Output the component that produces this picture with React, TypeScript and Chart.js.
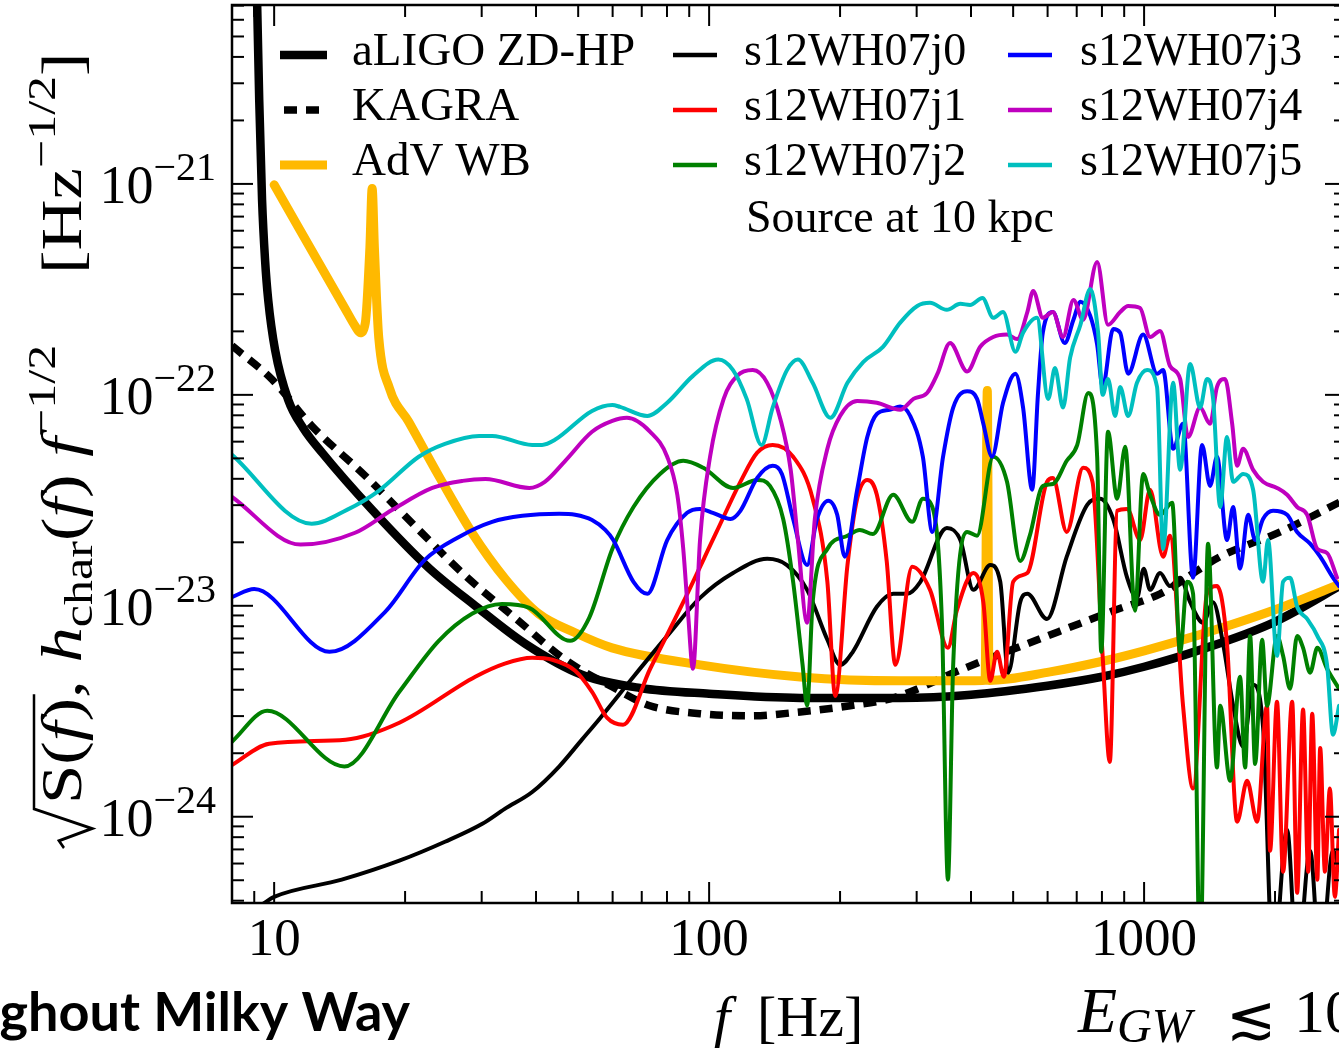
import { useEffect, useRef } from "react";
import { Chart, registerables } from "chart.js";
Chart.register(...registerables);

// ---------- axis ranges & ticks ----------
const X_MIN = 8;
const X_MAX = 2912;
const Y_MIN = 3.9e-25;
const Y_MAX = 7.05e-21;
const X_MAJOR = [10, 100, 1000];
const X_TICK_LABELS = ["10", "100", "1000"];
const Y_MAJOR = [1e-24, 1e-23, 1e-22, 1e-21];
const Y_TICK_EXP = ["\u221224", "\u221223", "\u221222", "\u221221"];

// ---------- detector noise curves ----------
const F_ALIGO = [9.09, 9.14, 9.24, 9.38, 9.53, 9.69, 10.05, 10.77, 11.66, 12.9, 16.8, 22.7, 29.0, 37.8, 51.0, 69.3, 100, 162, 275, 400, 600, 800, 1000, 1345, 2000, 2912];
const S_ALIGO = [1.3e-20, 7.05e-21, 2.5e-21, 8.39e-22, 4.36e-22, 2.82e-22, 1.63e-22, 9.48e-23, 6.97e-23, 5.31e-23, 2.85e-23, 1.51e-23, 1.0e-23, 6.6e-24, 4.71e-24, 4.08e-24, 3.83e-24, 3.66e-24, 3.66e-24, 3.79e-24, 4.18e-24, 4.61e-24, 5.14e-24, 6.18e-24, 8.4e-24, 1.29e-23];

const F_KAGRA = [8.0, 9.9, 12.2, 16.2, 21.5, 27.5, 35.8, 46.7, 59.8, 73.1, 95.3, 124, 162, 211, 265, 384, 600, 849, 1089, 1496, 2056, 2912];
const S_KAGRA = [1.71e-22, 1.18e-22, 7.13e-23, 4.13e-23, 2.29e-23, 1.39e-23, 8.77e-24, 5.55e-24, 4.13e-24, 3.36e-24, 3.08e-24, 3.01e-24, 3.14e-24, 3.36e-24, 3.66e-24, 5.03e-24, 7.2e-24, 9.47e-24, 1.14e-23, 1.71e-23, 2.24e-23, 3.21e-23];

const F_ADV = [10.0, 14.56, 15.35, 15.76, 16.2, 16.6, 16.8, 17.0, 17.2, 17.4, 18.4, 20.4, 23.9, 28.5, 34.0, 40.6, 49.2, 59.8, 95.3, 162, 275, 398, 431, 436, 440, 608, 793, 1000, 1345, 2000, 2912];
const S_ADV = [9.9e-22, 2.56e-22, 2.12e-22, 1.97e-22, 2.19e-22, 5.0e-22, 9.5e-22, 5.0e-22, 2.82e-22, 1.86e-22, 1.08e-22, 7.44e-23, 4.13e-23, 2.22e-23, 1.34e-23, 9.16e-24, 7.45e-24, 6.32e-24, 5.25e-24, 4.6e-24, 4.41e-24, 4.41e-24, 4.43e-24, 1.05e-22, 4.43e-24, 4.86e-24, 5.43e-24, 6.12e-24, 7.3e-24, 9.57e-24, 1.30e-23];

// ---------- signals (source at 10 kpc) ----------
const F_J0 = [9.4, 10.0, 14.3, 19.4, 24.7, 30.1, 33.9, 39.2, 45.2, 51.0, 56.2, 67.0, 80.1, 95.3, 113.5, 136, 151, 168, 187, 200, 214, 243, 265, 285, 306, 352, 378, 405, 443, 467, 487, 519, 539, 598, 664, 740, 792, 849, 914, 963, 998, 1032, 1088, 1147, 1210, 1276, 1367, 1441, 1519, 1602, 1689, 1781, 1877, 1979, 2132, 2248, 2408, 2540, 2718, 2807];
const S_J0 = [3.85e-25, 4.17e-25, 5.03e-25, 6.19e-25, 7.61e-25, 9.26e-25, 1.09e-24, 1.31e-24, 1.73e-24, 2.32e-24, 2.94e-24, 4.61e-24, 7.2e-24, 1.09e-23, 1.43e-23, 1.67e-23, 1.56e-23, 1.19e-23, 6.9e-24, 5.25e-24, 6.05e-24, 9.9e-24, 1.14e-23, 1.14e-23, 1.30e-23, 2.34e-23, 2.05e-23, 1.19e-23, 1.56e-23, 1.30e-23, 4.82e-24, 1.04e-23, 1.14e-23, 8.66e-24, 1.71e-23, 3.01e-23, 3.22e-23, 2.58e-23, 1.36e-23, 1.09e-23, 1.50e-23, 1.19e-23, 1.43e-23, 1.24e-23, 1.36e-23, 1.04e-23, 8.31e-24, 1.04e-23, 6.61e-24, 3.36e-24, 2.15e-24, 4.22e-24, 2.67e-24, 2e-25, 8.67e-25, 2e-25, 6.9e-25, 2e-25, 6.9e-25, 5.61e-25];

const F_J1 = [8.0, 9.74, 14.6, 19.4, 29.0, 33.9, 39.2, 43.6, 49.2, 53.8, 58.3, 63.4, 73.2, 87.2, 104, 118, 129, 140, 156, 173, 187, 195, 208, 219, 231, 243, 256, 268, 293, 322, 354, 371, 405, 427, 443, 459, 476, 500, 539, 598, 617, 664, 724, 761, 803, 834, 867, 914, 979, 1032, 1106, 1147, 1229, 1296, 1395, 1471, 1551, 1636, 1725, 1819, 1917, 1948, 2021, 2087, 2190, 2248, 2320, 2384, 2435, 2502, 2540, 2605, 2674, 2745, 2807];
const S_J1 = [1.76e-24, 2.22e-24, 2.32e-24, 2.79e-24, 4.61e-24, 5.32e-24, 5.67e-24, 5.55e-24, 4.92e-24, 3.91e-24, 2.94e-24, 2.73e-24, 5.03e-24, 1.04e-23, 2.24e-23, 3.87e-23, 5.32e-23, 5.79e-23, 5.09e-23, 3.22e-23, 1.30e-23, 3.74e-24, 1.56e-23, 3.22e-23, 3.95e-23, 3.36e-23, 1.63e-23, 5.25e-24, 1.53e-23, 1.19e-23, 6.32e-24, 9.48e-24, 1.43e-23, 1.04e-23, 4.41e-24, 6.05e-24, 4.61e-24, 1.30e-23, 1.43e-23, 3.87e-23, 4.04e-23, 2.24e-23, 4.51e-23, 3.87e-23, 5.79e-24, 1.82e-24, 2.82e-23, 2.88e-23, 2.05e-23, 3.55e-23, 1.71e-23, 2.15e-23, 3.36e-24, 1.36e-24, 1.14e-23, 1.24e-23, 6.61e-24, 9.48e-25, 1.48e-24, 9.48e-25, 3.36e-24, 6.9e-25, 3.51e-24, 5.49e-25, 3.51e-24, 4.36e-25, 3.22e-24, 5.49e-25, 3.08e-24, 5.03e-25, 2.12e-24, 5.49e-25, 1.36e-24, 4.17e-25, 8.67e-25];

const F_J2 = [8.0, 9.64, 14.5, 19.4, 23.9, 28.5, 33.4, 38.6, 47.9, 53.0, 59.9, 67.0, 77.1, 87.2, 97.0, 113.5, 129, 138, 148, 156, 164, 168, 173, 187, 208, 222, 238, 265, 293, 310, 326, 343, 354, 364, 392, 413, 450, 484, 519, 546, 585, 617, 664, 702, 744, 780, 797, 826, 867, 905, 953, 995, 1032, 1088, 1160, 1210, 1256, 1296, 1345, 1403, 1471, 1496, 1577, 1662, 1707, 1753, 1800, 1868, 1917, 2021, 2087, 2166, 2248, 2320, 2408, 2502, 2634, 2807];
const S_J2 = [2.27e-24, 3.18e-24, 1.73e-24, 3.91e-24, 6.82e-24, 9.17e-24, 1.02e-23, 9.78e-24, 6.82e-24, 8.77e-24, 1.86e-23, 2.94e-23, 4.22e-23, 4.87e-23, 4.51e-23, 3.62e-23, 3.95e-23, 3.70e-23, 2.58e-23, 1.30e-23, 5.25e-24, 3.36e-24, 1.04e-23, 1.86e-23, 2.15e-23, 2.29e-23, 2.19e-23, 3.36e-23, 2.50e-23, 3.22e-23, 2.94e-23, 8.31e-24, 5.03e-25, 5.25e-24, 2.24e-23, 2.15e-23, 5.09e-23, 3.87e-23, 1.63e-23, 2.15e-23, 3.70e-23, 3.78e-23, 4.87e-23, 5.79e-23, 1.02e-22, 5.09e-23, 6.05e-24, 6.68e-23, 3.22e-23, 5.67e-23, 9.48e-24, 4.22e-23, 3.36e-23, 2.70e-23, 3.08e-23, 6.05e-24, 1.30e-23, 1.14e-23, 2e-25, 1.97e-23, 1.71e-24, 3.36e-24, 1.48e-24, 4.61e-24, 1.71e-24, 7.2e-24, 1.78e-24, 6.9e-24, 3.36e-24, 7.2e-24, 5.79e-24, 4.04e-24, 7.2e-24, 6.32e-24, 4.82e-24, 6.32e-24, 5.03e-24, 4.04e-24];

const F_J3 = [8.0, 9.0, 13.4, 18.0, 22.2, 26.6, 31.7, 37.2, 45.2, 49.2, 53.8, 57.7, 60.2, 67.0, 72.1, 80.1, 89.0, 95.3, 102, 112, 118, 129, 140, 147, 156, 168, 177, 188, 197, 205, 219, 231, 243, 260, 275, 290, 310, 326, 345, 364, 392, 413, 427, 447, 474, 506, 527, 553, 570, 585, 617, 657, 688, 714, 752, 780, 803, 849, 881, 919, 995, 1071, 1106, 1166, 1229, 1296, 1359, 1418, 1471, 1551, 1602, 1662, 1734, 1800, 1877, 1979, 2132, 2248, 2408, 2540, 2718, 2807];
const S_J3 = [1.10e-23, 1.20e-23, 6.05e-24, 9.36e-24, 1.65e-23, 2.12e-23, 2.50e-23, 2.67e-23, 2.73e-23, 2.70e-23, 2.55e-23, 2.29e-23, 2.05e-23, 1.30e-23, 1.14e-23, 2.05e-23, 2.76e-23, 2.88e-23, 2.76e-23, 2.58e-23, 2.82e-23, 4.04e-23, 4.61e-23, 4.22e-23, 2.58e-23, 1.56e-23, 2.58e-23, 3.15e-23, 2.70e-23, 1.71e-23, 3.55e-23, 6.32e-23, 8.12e-23, 8.50e-23, 8.8e-23, 7.94e-23, 5.09e-23, 2.24e-23, 5.09e-23, 8.7e-23, 1.04e-22, 9.57e-23, 7.30e-23, 5.09e-23, 9.17e-23, 1.26e-22, 8.7e-23, 3.55e-23, 1.0e-22, 1.97e-22, 2.47e-22, 1.76e-22, 2.27e-22, 2.76e-22, 2.37e-22, 1.73e-22, 1.09e-22, 2.05e-22, 1.97e-22, 1.26e-22, 1.93e-22, 1.26e-22, 1.31e-22, 5.55e-23, 7.30e-23, 1.36e-23, 5.79e-23, 3.70e-23, 5.09e-23, 2.05e-23, 2.94e-23, 1.50e-23, 2.70e-23, 2.05e-23, 2.58e-23, 2.82e-23, 2.70e-23, 2.24e-23, 1.97e-23, 1.71e-23, 1.36e-23, 1.24e-23];

const F_J4 = [8.0, 11.5, 15.35, 18.7, 23.1, 27.1, 30.6, 38.6, 41.9, 46.7, 53.8, 59.9, 64.7, 73.2, 80.1, 84.5, 87.2, 89.5, 91.8, 95.3, 100.5, 108, 116, 126, 136, 146, 154, 160, 168, 175, 187, 200, 219, 243, 275, 295, 317, 335, 358, 392, 420, 450, 484, 511, 539, 556, 585, 617, 651, 688, 724, 780, 826, 881, 919, 979, 1032, 1088, 1147, 1210, 1262, 1345, 1418, 1471, 1535, 1594, 1636, 1689, 1781, 1877, 2021, 2132, 2248, 2371, 2502, 2634, 2777];
const S_J4 = [3.28e-23, 1.95e-23, 2.22e-23, 2.85e-23, 3.62e-23, 3.91e-23, 3.99e-23, 3.62e-23, 3.87e-23, 4.87e-23, 6.68e-23, 7.52e-23, 7.78e-23, 6.68e-23, 5.09e-23, 3.36e-23, 1.86e-23, 9.06e-24, 5.03e-24, 2.05e-23, 5.09e-23, 9.57e-23, 1.23e-22, 1.31e-22, 1.14e-22, 7.61e-23, 4.41e-23, 2.05e-23, 8.31e-24, 2.58e-23, 5.55e-23, 7.94e-23, 9.36e-23, 9.17e-23, 8.50e-23, 9.57e-23, 1.02e-22, 1.26e-22, 1.76e-22, 1.29e-22, 1.69e-22, 1.88e-22, 1.93e-22, 1.84e-22, 2.47e-22, 3.11e-22, 2.32e-22, 2.47e-22, 1.88e-22, 2.82e-22, 2.27e-22, 4.27e-22, 2.15e-22, 2.47e-22, 2.64e-22, 2.58e-22, 1.88e-22, 2.01e-22, 1.37e-22, 1.19e-22, 6.32e-23, 8.7e-23, 7.30e-23, 1.09e-22, 1.19e-22, 7.30e-23, 4.61e-23, 5.55e-23, 4.41e-23, 3.87e-23, 3.62e-23, 3.36e-23, 2.94e-23, 2.70e-23, 1.86e-23, 1.78e-23, 1.36e-23];

const F_J5 = [8.0, 12.2, 14.7, 17.4, 21.5, 24.7, 29.6, 31.7, 39.2, 41.3, 44.2, 53.8, 59.9, 62.4, 72.1, 80.1, 91.8, 105, 113.5, 122, 132, 140, 151, 160, 173, 190, 208, 226, 251, 275, 301, 322, 352, 378, 398, 425, 450, 474, 506, 527, 567, 602, 624, 651, 676, 714, 752, 784, 803, 826, 858, 881, 919, 963, 1016, 1071, 1106, 1166, 1210, 1276, 1345, 1395, 1441, 1496, 1551, 1602, 1689, 1781, 1877, 1927, 2021, 2087, 2166, 2248, 2371, 2502, 2634, 2718, 2807];
const S_J5 = [5.20e-23, 2.45e-23, 2.85e-23, 3.51e-23, 5.09e-23, 5.86e-23, 6.39e-23, 6.39e-23, 5.79e-23, 5.79e-23, 6.12e-23, 8.39e-23, 8.95e-23, 8.77e-23, 7.94e-23, 9.17e-23, 1.23e-22, 1.47e-22, 1.31e-22, 9.57e-23, 5.79e-23, 8.7e-23, 1.31e-22, 1.47e-22, 1.14e-22, 7.78e-23, 1.14e-22, 1.43e-22, 1.69e-22, 2.2e-22, 2.64e-22, 2.73e-22, 2.53e-22, 2.70e-22, 2.67e-22, 2.88e-22, 2.32e-22, 2.47e-22, 1.60e-22, 1.97e-22, 2.32e-22, 9.57e-23, 1.34e-22, 8.7e-23, 1.50e-22, 2.15e-22, 3.18e-22, 1.97e-22, 1.00e-22, 1.19e-22, 7.94e-23, 1.09e-22, 7.94e-23, 1.14e-22, 1.31e-22, 1.09e-22, 1.86e-23, 1.14e-22, 4.41e-23, 1.40e-22, 8.7e-23, 1.19e-22, 9.57e-23, 2.94e-23, 6.32e-23, 3.87e-23, 4.22e-23, 3.55e-23, 1.30e-23, 2.05e-23, 5.79e-24, 1.30e-23, 1.36e-23, 9.9e-24, 8.66e-24, 7.2e-24, 5.25e-24, 2.45e-24, 3.36e-24];

// ---------- styles ----------
const SERIF = "'Liberation Serif', 'DejaVu Serif', serif";
const ORANGE = "#ffb900";
const SIG_W = 4;

type Run = { t: string; f: string; dy?: number };
function runsWidth(ctx: CanvasRenderingContext2D, runs: Run[]) {
  let w = 0;
  for (const r of runs) { ctx.font = r.f; w += ctx.measureText(r.t).width; }
  return w;
}
function drawRuns(ctx: CanvasRenderingContext2D, runs: Run[], x: number, y: number) {
  let cx = x;
  for (const r of runs) {
    ctx.font = r.f;
    ctx.fillText(r.t, cx, y + (r.dy || 0));
    cx += ctx.measureText(r.t).width;
  }
  return cx;
}

const mk = (label: string, F: number[], S: number[], color: string, width: number, order: number, extra: any = {}) => ({
  label,
  data: F.map((x, i) => ({ x, y: S[i] })),
  borderColor: color,
  backgroundColor: color,
  borderWidth: width,
  pointRadius: 0,
  pointHoverRadius: 0,
  fill: false,
  cubicInterpolationMode: "monotone",
  borderCapStyle: "round",
  borderJoinStyle: "round",
  clip: 0,
  order,
  ...extra,
});

const framePlugin = {
  id: "frame",
  beforeDraw(chart: any) {
    const { ctx } = chart;
    ctx.save();
    ctx.fillStyle = "#fff";
    ctx.fillRect(0, 0, chart.width, chart.height);
    ctx.restore();
  },
  afterDatasetsDraw(chart: any) {
    const { ctx, chartArea: a, scales } = chart;
    const xs = scales.x, ys = scales.y;
    ctx.save();
    ctx.strokeStyle = "#000";
    ctx.fillStyle = "#000";
    ctx.lineCap = "butt";
    ctx.setLineDash([]);
    // spines
    ctx.lineWidth = 2.5;
    ctx.strokeRect(a.left, a.top, a.right - a.left, a.bottom - a.top);
    const seg = (x1: number, y1: number, x2: number, y2: number) => {
      ctx.beginPath(); ctx.moveTo(x1, y1); ctx.lineTo(x2, y2); ctx.stroke();
    };
    ctx.lineWidth = 2;
    // x ticks (inward, bottom & top)
    for (let e = 0; e <= 4; e++) {
      for (let m = 1; m <= 9; m++) {
        const v = m * Math.pow(10, e);
        if (v < X_MIN || v > X_MAX) continue;
        const px = xs.getPixelForValue(v);
        const len = m === 1 ? 21 : 12;
        seg(px, a.bottom, px, a.bottom - len);
        seg(px, a.top, px, a.top + len);
      }
    }
    // y ticks (inward, left & right)
    for (let e = -26; e <= -20; e++) {
      for (let m = 1; m <= 9; m++) {
        const v = Number(m + "e" + e);
        if (v < Y_MIN || v > Y_MAX) continue;
        const py = ys.getPixelForValue(v);
        const len = m === 1 ? 21 : 12;
        seg(a.left, py, a.left + len, py);
        seg(a.right, py, a.right - len, py);
      }
    }
    // x tick labels
    ctx.textBaseline = "alphabetic";
    ctx.textAlign = "center";
    ctx.font = `53px ${SERIF}`;
    X_MAJOR.forEach((v, i) => {
      ctx.fillText(X_TICK_LABELS[i], xs.getPixelForValue(v), 955);
    });
    // y tick labels
    ctx.textAlign = "left";
    Y_MAJOR.forEach((v, i) => {
      const py = ys.getPixelForValue(v);
      const runs: Run[] = [
        { t: "10", f: `54px ${SERIF}` },
        { t: Y_TICK_EXP[i], f: `40px ${SERIF}`, dy: -23 },
      ];
      const w = runsWidth(ctx, runs);
      drawRuns(ctx, runs, 216 - w, py + 19);
    });

    // legend
    const rowsY = [65, 120, 175];
    const det = chart.data.datasets.slice(0, 3);
    det.forEach((ds: any, i: number) => {
      const y = rowsY[i] - 10;
      ctx.strokeStyle = ds.borderColor;
      ctx.lineWidth = ds.borderWidth;
      ctx.lineCap = "butt";
      if (ds.borderDash) { ctx.setLineDash(ds.borderDash); seg(284, y, 321, y); ctx.setLineDash([]); }
      else { seg(280, y, 327, y); }
      ctx.fillStyle = "#000";
      ctx.font = `47px ${SERIF}`;
      ctx.fillText(ds.label, 352, rowsY[i]);
    });
    const sig = chart.data.datasets.slice(3);
    sig.forEach((ds: any, i: number) => {
      const col = Math.floor(i / 3), row = i % 3;
      const x0 = col === 0 ? 673 : 1008;
      const tx = col === 0 ? 744 : 1080;
      const y = rowsY[row] - 10;
      ctx.strokeStyle = ds.borderColor;
      ctx.lineWidth = 4.5;
      ctx.lineCap = "butt";
      seg(x0, y, x0 + 44, y);
      ctx.fillStyle = "#000";
      ctx.font = `46px ${SERIF}`;
      ctx.fillText(ds.label, tx, rowsY[row]);
    });
    ctx.font = `46px ${SERIF}`;
    ctx.fillText("Source at 10 kpc", 746, 232);

    // x axis label
    ctx.font = `italic 58px ${SERIF}`;
    ctx.fillText("f", 714, 1036);
    ctx.font = `58px ${SERIF}`;
    ctx.fillText("[Hz]", 757, 1036);

    // left cut annotation
    ctx.font = "bold 54px Lato, 'Open Sans', sans-serif";
    const txt = "ghout Milky Way";
    const tw = ctx.measureText(txt).width;
    ctx.fillText(txt, 410 - tw, 1031);

    // right cut annotation
    drawRuns(ctx, [
      { t: "E", f: `italic 64px ${SERIF}` },
      { t: "GW", f: `italic 48px ${SERIF}`, dy: 10 },
    ], 1078, 1032);
    ctx.font = "60px 'DejaVu Serif', serif";
    ctx.fillText("\u2272", 1226, 1038);
    ctx.font = `62px ${SERIF}`;
    ctx.fillText("10", 1294, 1032);

    // y axis label (rotated)
    ctx.save();
    ctx.translate(81, 848);
    ctx.rotate(-Math.PI / 2);
    ctx.scale(1.22, 1);
    ctx.strokeStyle = "#000";
    ctx.fillStyle = "#000";
    const reg = `58px ${SERIF}`, it = `italic 58px ${SERIF}`, sm = `41px ${SERIF}`;
    const inner: Run[] = [{ t: "S", f: reg }, { t: "(", f: reg }, { t: "f", f: it }, { t: ")", f: reg }];
    const iw = runsWidth(ctx, inner);
    ctx.lineWidth = 2.5;
    ctx.lineCap = "butt";
    ctx.lineJoin = "miter";
    ctx.beginPath();
    ctx.moveTo(0, -17);
    ctx.lineTo(6, -22);
    ctx.lineTo(16, 11);
    ctx.lineTo(32, -47);
    ctx.lineTo(36 + iw + 3, -47);
    ctx.stroke();
    const u = drawRuns(ctx, inner, 36, 0);
    drawRuns(ctx, [
      { t: ", ", f: reg },
      { t: "h", f: it },
      { t: "char", f: sm, dy: 11 },
      { t: "(", f: reg },
      { t: "f", f: it },
      { t: ")", f: reg },
      { t: " f", f: it },
      { t: "\u22121/2", f: sm, dy: -26 },
      { t: "    [Hz", f: reg },
      { t: "\u22121/2", f: sm, dy: -26 },
      { t: "]", f: reg },
    ], u, 0);
    ctx.restore();

    ctx.restore();
  },
};

export default function App() {
  const ref = useRef<HTMLCanvasElement>(null);
  useEffect(() => {
    const chart = new Chart(ref.current as HTMLCanvasElement, {
      type: "line",
      data: {
        datasets: [
          mk("aLIGO ZD-HP", F_ALIGO, S_ALIGO, "#000000", 8.5, 9),
          mk("KAGRA", F_KAGRA, S_KAGRA, "#000000", 7.5, 8, { borderDash: [13, 9], borderCapStyle: "butt" }),
          mk("AdV WB", F_ADV, S_ADV, ORANGE, 9, 7),
          mk("s12WH07j0", F_J0, S_J0, "#000000", SIG_W, 6),
          mk("s12WH07j1", F_J1, S_J1, "#ff0000", SIG_W, 5),
          mk("s12WH07j2", F_J2, S_J2, "#008000", SIG_W, 4),
          mk("s12WH07j3", F_J3, S_J3, "#0000ff", SIG_W, 3),
          mk("s12WH07j4", F_J4, S_J4, "#bf00bf", SIG_W, 2),
          mk("s12WH07j5", F_J5, S_J5, "#00bfbf", SIG_W, 1),
        ] as any,
      },
      options: {
        responsive: false,
        animation: false,
        devicePixelRatio: 1,
        events: [],
        layout: { padding: { left: 232, right: 14, top: 5, bottom: 149 } },
        scales: {
          x: { type: "logarithmic", min: X_MIN, max: X_MAX, display: false },
          y: { type: "logarithmic", min: Y_MIN, max: Y_MAX, display: false },
        },
        plugins: { legend: { display: false }, tooltip: { enabled: false } },
      } as any,
      plugins: [framePlugin],
    });
    return () => chart.destroy();
  }, []);
  return (
    <div style={{ position: "absolute", left: 0, top: 0, width: 1339, height: 1052, overflow: "hidden", background: "#fff" }}>
      <canvas ref={ref} width={1360} height={1052} style={{ display: "block", width: 1360, height: 1052 }} />
    </div>
  );
}
